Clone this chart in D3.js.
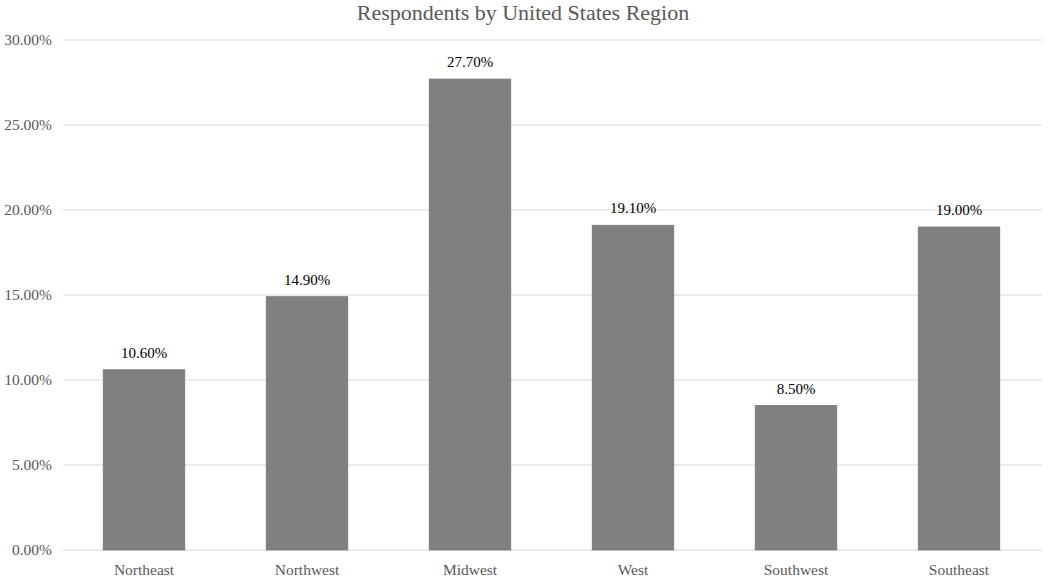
<!DOCTYPE html>
<html><head><meta charset="utf-8">
<script src="https://cdn.jsdelivr.net/npm/d3@7"></script>
<style>body{margin:0;background:#fff}svg{display:block}</style>
</head><body>
<svg id="c" width="1050" height="580"></svg>
<script>
const categories = ["Northeast","Northwest","Midwest","West","Southwest","Southeast"];
const values = [10.6, 14.9, 27.7, 19.1, 8.5, 19.0];
const yTicks = [0,5,10,15,20,25,30];
const title = "Respondents by United States Region";

const svg = d3.select("#c");
const font = "'Liberation Serif','Times New Roman',serif";
const x = d3.scaleBand().domain(categories).range([62.5,1040.5]).paddingInner(0.5).paddingOuter(0.25);
const y = d3.scaleLinear().domain([0,30]).range([550,40]);

svg.append("g").selectAll("line").data(yTicks).join("line")
  .attr("x1",63).attr("x2",1042).attr("y1",d=>y(d)).attr("y2",d=>y(d))
  .attr("stroke","#d9d9d9").attr("stroke-width",1);

const yAxis = svg.append("g").attr("transform","translate(52,0)")
  .call(d3.axisLeft(y).tickValues(yTicks).tickSize(0).tickPadding(0).tickFormat(d=>d.toFixed(2)+"%"));
yAxis.select(".domain").remove();
yAxis.selectAll("text").attr("font-family",font).attr("font-size",15.5).attr("fill","#595959");

svg.append("g").selectAll("rect").data(values).join("rect")
  .attr("x",(d,i)=>x(categories[i])).attr("width",x.bandwidth())
  .attr("y",d=>y(d)).attr("height",d=>y(0)-y(d))
  .attr("fill","#808080").attr("stroke","#767676").attr("stroke-width",0.8);

svg.append("g").selectAll("text").data(values).join("text")
  .attr("x",(d,i)=>x(categories[i])+x.bandwidth()/2).attr("y",d=>y(d)-12)
  .attr("text-anchor","middle").attr("font-family",font).attr("font-size",15).attr("fill","#000")
  .text(d=>d.toFixed(2)+"%");

const xAxis = svg.append("g").attr("transform","translate(0,550)")
  .call(d3.axisBottom(x).tickSize(0).tickPadding(14));
xAxis.select(".domain").remove();
xAxis.selectAll("text").attr("font-family",font).attr("font-size",15.5).attr("fill","#595959").attr("dy","0.71em");

svg.append("text").attr("x",523).attr("y",20).attr("text-anchor","middle")
  .attr("font-family",font).attr("font-size",22).attr("fill","#595959").text(title);
</script>
</body></html>
